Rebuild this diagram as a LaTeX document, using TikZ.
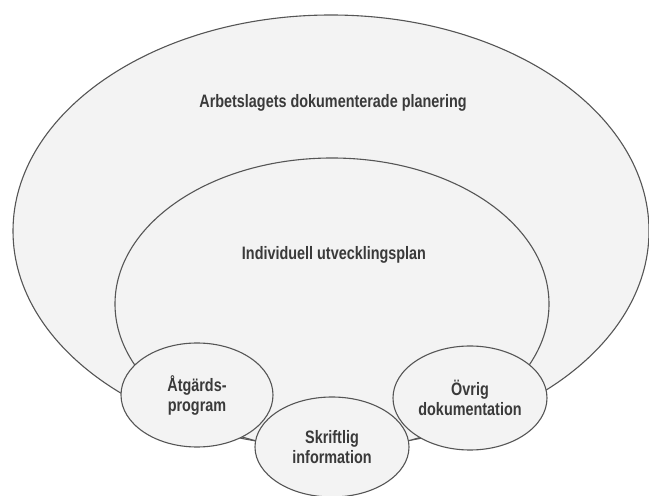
\documentclass[tikz,border=0pt]{standalone}
\usepackage{fontspec}
\setmainfont[FakeStretch=0.8]{Liberation Sans}
\usepackage{tikz}
\usetikzlibrary{shapes.geometric}

\definecolor{rim}{HTML}{555555}
\definecolor{paper}{HTML}{F3F3F3}
\definecolor{ink}{HTML}{3A3A3A}

\tikzset{
	ring/.style={draw=rim, line width=1.1pt, fill=paper},
	part/.style={ring, ellipse, inner sep=0pt, align=center, text=ink,
		font=\fontsize{18}{20}\selectfont\bfseries},
	caption/.style={text=ink, font=\fontsize{18}{20}\selectfont\bfseries}
}

\begin{document}
\begin{tikzpicture}[x=1pt,y=1pt]
	\useasboundingbox (0,0) rectangle (649,496);
	\fill[white] (0,0) rectangle (649,496);
	% the two big rings
	\draw[ring] (331,265) ellipse (318 and 216);
	\draw[ring] (332,192) ellipse (217 and 146);
	\node[caption] (plan) at (333,393) {Arbetslagets dokumenterade planering};
	\node[caption] (iup) at (334,241) {Individuell utvecklingsplan};
	% the small ones along the bottom
	\node[part, minimum width=152pt, minimum height=104pt] (atgard) at (197,101) {Åtgärds-\\program};
	\node[part, minimum width=154pt, minimum height=104pt] (ovrig) at (470,98) {Övrig\\dokumentation};
	\node[part, minimum width=154pt, minimum height=100pt] (skrift) at (332,49) {Skriftlig\\information};
\end{tikzpicture}
\end{document}
